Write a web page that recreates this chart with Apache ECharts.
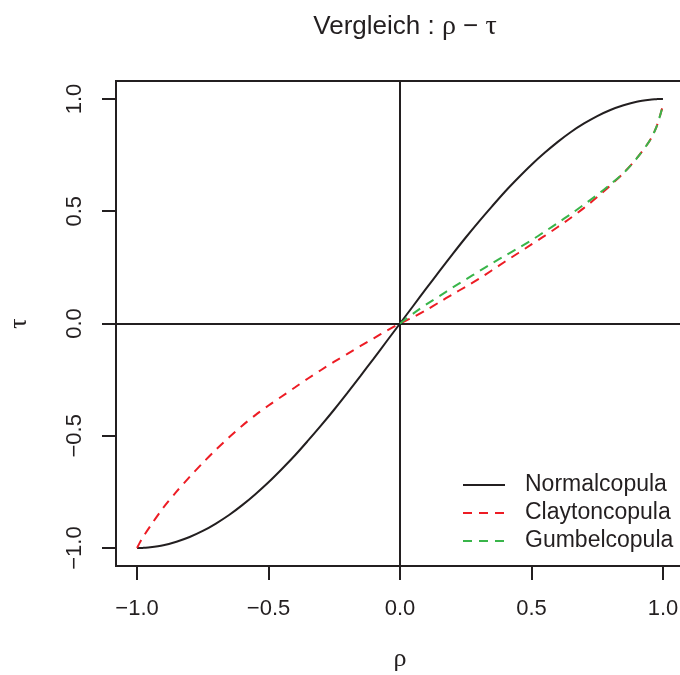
<!DOCTYPE html>
<html>
<head>
<meta charset="utf-8">
<script src="https://cdn.jsdelivr.net/npm/echarts@6/dist/echarts.min.js"></script>
<style>
  html, body { margin: 0; padding: 0; background: #ffffff; }
  #chart { width: 680px; height: 675px; }
</style>
</head>
<body>
<div id="chart"></div>
<script>
// rho grid shared by all curves
const rhoGrid = [-1, -0.99, -0.975, -0.95, -0.9, -0.85, -0.8, -0.75, -0.7, -0.65, -0.6, -0.55,
  -0.5, -0.45, -0.4, -0.35, -0.3, -0.25, -0.2, -0.15, -0.1, -0.05, 0,
  0.05, 0.1, 0.15, 0.2, 0.25, 0.3, 0.35, 0.4, 0.45, 0.5, 0.55, 0.6, 0.65, 0.7, 0.75,
  0.8, 0.85, 0.9, 0.95, 0.975, 0.99, 1];

// Normal copula: tau over the full rho range
const normalTau = [-1.000, -1.000, -0.999, -0.997, -0.988, -0.972, -0.951, -0.924, -0.891, -0.853, -0.809, -0.760,
  -0.707, -0.649, -0.588, -0.522, -0.454, -0.383, -0.309, -0.233, -0.156, -0.078, 0,
  0.078, 0.156, 0.233, 0.309, 0.383, 0.454, 0.522, 0.588, 0.649, 0.707, 0.760, 0.809, 0.853, 0.891, 0.924,
  0.951, 0.972, 0.988, 0.997, 0.999, 1.000, 1.000];

// Clayton copula: tau over the full rho range
const claytonTau = [-1.000, -0.977, -0.947, -0.903, -0.820, -0.749, -0.683, -0.621, -0.562, -0.507, -0.455, -0.408,
  -0.365, -0.325, -0.285, -0.245, -0.207, -0.170, -0.135, -0.100, -0.066, -0.032, 0,
  0.028, 0.060, 0.095, 0.130, 0.164, 0.199, 0.237, 0.276, 0.314, 0.352, 0.390, 0.430, 0.471, 0.515, 0.563,
  0.615, 0.670, 0.735, 0.815, 0.875, 0.930, 0.972];

// Gumbel copula: tau for rho >= 0 only
const rhoPositive = rhoGrid.filter(r => r >= 0);
const gumbelTau = [0, 0.044, 0.085, 0.122, 0.160, 0.196, 0.232, 0.268, 0.302, 0.336, 0.371, 0.409,
  0.448, 0.488, 0.530, 0.573, 0.620, 0.670, 0.735, 0.815, 0.875, 0.930, 0.972];

const tickValues = [-1, -0.5, 0, 0.5, 1];
const seriesNames = ['Normalcopula', 'Claytoncopula', 'Gumbelcopula'];

const zip = (xs, ys) => xs.map((x, i) => [x, ys[i]]);
const fmt = v => (v < 0 ? '\u2212' : '') + Math.abs(v).toFixed(1);

const INK = '#231f20';
const RED = '#ed1c24';
const GREEN = '#39b54a';
const SANS = '"Liberation Sans", Arial, Helvetica, sans-serif';
const SERIF = '"Liberation Serif", "DejaVu Serif", serif';

const chart = echarts.init(document.getElementById('chart'), null, { renderer: 'canvas' });

const axisCommon = {
  type: 'value',
  min: -1.08,
  max: 1.08,
  axisLine: { show: false, onZero: false },
  splitLine: { show: false },
  axisTick: { show: true, inside: false, length: 14, customValues: tickValues,
    lineStyle: { color: INK, width: 2 } },
  axisLabel: { customValues: tickValues, formatter: fmt, color: INK,
    fontFamily: SANS, fontSize: 22 }
};

chart.setOption({
  animation: false,
  backgroundColor: '#ffffff',
  title: {
    text: '{a|Vergleich : }{g|\u03c1}{a| \u2212 }{g|\u03c4}',
    left: 400,
    top: 8,
    textAlign: 'center',
    textStyle: {
      fontWeight: 'normal',
      rich: {
        a: { fontFamily: SANS, fontSize: 26, fontWeight: 'normal', color: INK },
        g: { fontFamily: SERIF, fontSize: 28, fontWeight: 'normal', color: INK }
      }
    }
  },
  grid: {
    left: 116, top: 81, width: 568, height: 485,
    outerBoundsMode: 'none',
    containLabel: false,
    show: true, borderColor: INK, borderWidth: 2, backgroundColor: 'transparent'
  },
  xAxis: Object.assign({}, axisCommon, {
    name: '\u03c1',
    nameLocation: 'middle',
    nameGap: 80,
    nameTextStyle: { fontFamily: SERIF, fontSize: 26, color: INK },
    axisLabel: Object.assign({}, axisCommon.axisLabel, { margin: 32 })
  }),
  yAxis: Object.assign({}, axisCommon, {
    name: '\u03c4',
    nameLocation: 'middle',
    nameGap: 84,
    nameRotate: 90,
    nameTextStyle: { fontFamily: SERIF, fontSize: 26, color: INK },
    axisLabel: Object.assign({}, axisCommon.axisLabel, { rotate: 90, margin: 30 })
  }),
  legend: {
    orient: 'vertical',
    left: 462,
    top: 471,
    padding: 0,
    itemGap: 0,
    itemWidth: 42,
    itemHeight: 14,
    data: seriesNames,
    itemStyle: { opacity: 0 },
    textStyle: { fontFamily: SANS, fontSize: 23, color: INK, lineHeight: 28,
      padding: [0, 0, 0, 15] }
  },
  series: [
    {
      name: seriesNames[0],
      type: 'line',
      data: zip(rhoGrid, normalTau),
      symbol: 'none',
      smooth: 0.3,
      lineStyle: { color: INK, width: 2 },
      itemStyle: { color: INK },
      z: 3,
      markLine: {
        silent: true,
        symbol: 'none',
        label: { show: false },
        lineStyle: { color: INK, width: 2, type: 'solid' },
        data: [{ xAxis: 0 }, { yAxis: 0 }]
      }
    },
    {
      name: seriesNames[1],
      type: 'line',
      data: zip(rhoGrid, claytonTau),
      symbol: 'none',
      smooth: 0.3,
      lineStyle: { color: RED, width: 2, type: [9, 7] },
      itemStyle: { color: RED },
      z: 4
    },
    {
      name: seriesNames[2],
      type: 'line',
      data: zip(rhoPositive, gumbelTau),
      symbol: 'none',
      smooth: 0.3,
      lineStyle: { color: GREEN, width: 2, type: [9, 7] },
      itemStyle: { color: GREEN },
      z: 5
    }
  ]
});
</script>
</body>
</html>
